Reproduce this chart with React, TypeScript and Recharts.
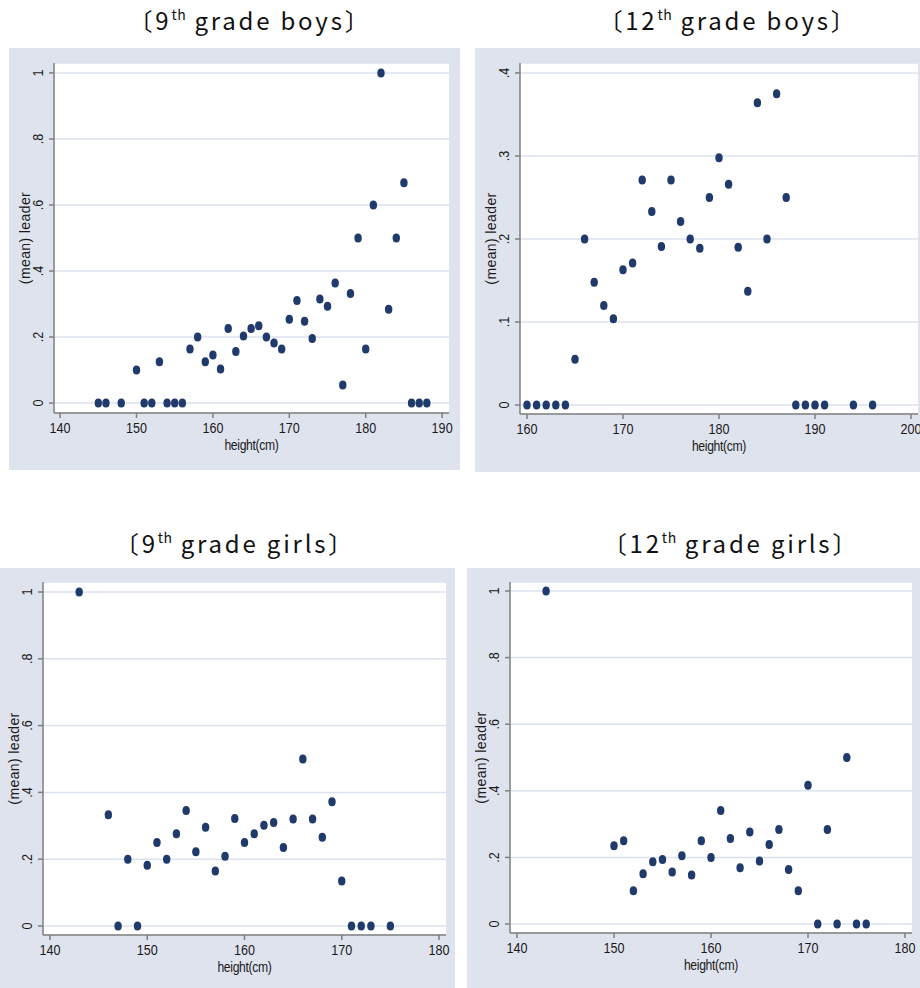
import React from 'react';
import {
  ScatterChart,
  Scatter,
  XAxis,
  YAxis,
  CartesianGrid,
} from 'recharts';

// 9th grade boys
const B9_HEIGHT = [145, 146, 148, 150, 151, 152, 153, 154, 155, 156, 157, 158, 159, 160, 161, 162, 163, 164, 165, 166, 167, 168, 169, 170, 171, 172, 173, 174, 175, 176, 177, 178, 179, 180, 181, 182, 183, 184, 185, 186, 187, 188];
const B9_LEADER = [0, 0, 0, 0.1, 0, 0, 0.125, 0, 0, 0, 0.164, 0.2, 0.125, 0.146, 0.103, 0.226, 0.156, 0.203, 0.226, 0.234, 0.2, 0.182, 0.164, 0.254, 0.311, 0.248, 0.196, 0.315, 0.293, 0.364, 0.055, 0.332, 0.5, 0.164, 0.6, 1, 0.284, 0.5, 0.667, 0, 0, 0];

// 12th grade boys
const B12_HEIGHT = [160, 161, 162, 163, 164, 165, 166, 167, 168, 169, 170, 171, 172, 173, 174, 175, 176, 177, 178, 179, 180, 181, 182, 183, 184, 185, 186, 187, 188, 189, 190, 191, 194, 196];
const B12_LEADER = [0, 0, 0, 0, 0, 0.055, 0.2, 0.148, 0.12, 0.104, 0.163, 0.171, 0.271, 0.233, 0.191, 0.271, 0.221, 0.2, 0.189, 0.25, 0.298, 0.266, 0.19, 0.137, 0.364, 0.2, 0.375, 0.25, 0, 0, 0, 0, 0, 0];

// 9th grade girls
const G9_HEIGHT = [143, 146, 147, 148, 149, 150, 151, 152, 153, 154, 155, 156, 157, 158, 159, 160, 161, 162, 163, 164, 165, 166, 167, 168, 169, 170, 171, 172, 173, 175];
const G9_LEADER = [1, 0.333, 0, 0.2, 0, 0.182, 0.25, 0.2, 0.276, 0.346, 0.222, 0.296, 0.165, 0.209, 0.322, 0.25, 0.276, 0.302, 0.31, 0.235, 0.32, 0.5, 0.32, 0.266, 0.372, 0.135, 0, 0, 0, 0];

// 12th grade girls
const G12_HEIGHT = [143, 150, 151, 152, 153, 154, 155, 156, 157, 158, 159, 160, 161, 162, 163, 164, 165, 166, 167, 168, 169, 170, 171, 172, 173, 174, 175, 176];
const G12_LEADER = [1, 0.235, 0.25, 0.1, 0.151, 0.187, 0.194, 0.156, 0.205, 0.147, 0.25, 0.2, 0.341, 0.257, 0.169, 0.276, 0.189, 0.239, 0.284, 0.164, 0.1, 0.417, 0, 0.284, 0, 0.5, 0, 0];

const X_TICKS_140 = [140, 150, 160, 170, 180, 190];
const X_TICKS_GIRLS = [140, 150, 160, 170, 180];
const X_TICKS_160 = [160, 170, 180, 190, 200];
const Y_TICKS_1 = [0, 0.2, 0.4, 0.6, 0.8, 1];
const Y_TICKS_04 = [0, 0.1, 0.2, 0.3, 0.4];

const BG = '#dfe3ee';
const GRID = '#dbe2ef';
const AXIS = '#7f7f7f';
const MARKER = '#1f3a6b';
const INK = '#1a1a1a';
// Arial-ish, squeezed sideways to look like the narrow Stata font
const SANS = "'Liberation Sans', Arial, sans-serif";
const SQUEEZE = 0.84;

const toPoints = (hs: number[], vs: number[]) => hs.map((h, i) => ({ h, v: vs[i] }));

const fmtY = (v: number) => (v === 0 ? '0' : v === 1 ? '1' : String(v).replace(/^0/, ''));

function XTick(props: any) {
  const { x, y, payload } = props;
  return (
    <text
      transform={`translate(${x}, ${y + 2}) scale(${SQUEEZE}, 1)`}
      textAnchor="middle"
      dy="0.71em"
      fontFamily={SANS}
      fontSize={15}
      fill={INK}
    >
      {payload.value}
    </text>
  );
}

function YTick(props: any) {
  const { x, y, payload } = props;
  return (
    <text
      transform={`translate(${x - 4}, ${y}) rotate(-90) scale(${SQUEEZE}, 1)`}
      textAnchor="middle"
      fontFamily={SANS}
      fontSize={15}
      fill={INK}
    >
      {fmtY(payload.value)}
    </text>
  );
}

function Dot(props: any) {
  const { cx, cy } = props;
  if (cx == null || cy == null) return null;
  return <ellipse cx={cx} cy={cy} rx={3.7} ry={4.5} fill={MARKER} />;
}

interface PanelProps {
  grade: string;
  sex: string;
  left: number;
  top: number;
  width: number;
  height: number;
  plotLeft: number;
  plotTop: number;
  plotRight: number;
  plotBottom: number;
  xDomain: [number, number];
  yDomain: [number, number];
  xTicks: number[];
  yTicks: number[];
  data: { h: number; v: number }[];
  titleX: number;
  titleY: number;
}

function Panel(p: PanelProps) {
  return (
    <>
      <div
        style={{
          position: 'absolute',
          left: p.titleX - 160,
          top: p.titleY,
          width: 320,
          textAlign: 'center',
          fontFamily: '"Noto Sans CJK KR", "Noto Sans", sans-serif',
          fontSize: 24,
          fontWeight: 400,
          letterSpacing: 2.8,
          color: '#111',
          lineHeight: '28px',
          whiteSpace: 'nowrap',
        }}
      >
        〔{p.grade}
        <span style={{ fontSize: 14, position: 'relative', top: -10, letterSpacing: 0.5 }}>th</span> grade {p.sex}〕
      </div>
      <div style={{ position: 'absolute', left: p.left, top: p.top, width: p.width, height: p.height, background: BG }}>
        <ScatterChart
          width={p.width}
          height={p.height}
          margin={{ top: p.plotTop, right: p.plotRight, bottom: 0, left: 0 }}
        >
          <CartesianGrid
            vertical={false}
            horizontal
            stroke={GRID}
            strokeWidth={1.5}
            fill="#ffffff"
            fillOpacity={1}
          />
          <XAxis
            type="number"
            dataKey="h"
            domain={p.xDomain}
            ticks={p.xTicks}
            interval={0}
            height={p.plotBottom}
            tickSize={5}
            axisLine={{ stroke: AXIS, strokeWidth: 1.5 }}
            tickLine={{ stroke: AXIS, strokeWidth: 1.5 }}
            tick={<XTick />}
            label={{
              content: (lp: any) => {
                const vb = lp.viewBox;
                const lx = vb.x + vb.width / 2;
                const ly = vb.y + 37;
                return (
                  <text
                    transform={`translate(${lx}, ${ly}) scale(${SQUEEZE}, 1)`}
                    textAnchor="middle"
                    fontFamily={SANS}
                    fontSize={14.5}
                    letterSpacing={-0.4}
                    fill={INK}
                  >
                    height(cm)
                  </text>
                );
              },
            }}
          />
          <YAxis
            type="number"
            dataKey="v"
            domain={p.yDomain}
            ticks={p.yTicks}
            interval={0}
            width={p.plotLeft}
            tickSize={5}
            axisLine={{ stroke: AXIS, strokeWidth: 1.5 }}
            tickLine={{ stroke: AXIS, strokeWidth: 1.5 }}
            tick={<YTick />}
            label={{
              content: (lp: any) => {
                const vb = lp.viewBox;
                const lx = vb.x + vb.width - 24;
                const ly = vb.y + vb.height / 2;
                return (
                  <text
                    transform={`translate(${lx}, ${ly}) rotate(-90)`}
                    textAnchor="middle"
                    fontFamily={SANS}
                    fontSize={14}
                    letterSpacing={0.4}
                    fill={INK}
                  >
                    (mean) leader
                  </text>
                );
              },
            }}
          />
          <Scatter data={p.data} shape={<Dot />} isAnimationActive={false} />
        </ScatterChart>
      </div>
    </>
  );
}

export default function App() {
  return (
    <div style={{ position: 'absolute', left: 0, top: 0, width: 920, height: 988, background: '#fff', overflow: 'hidden' }}>
      <Panel
        grade="9" sex="boys"
        titleX={250} titleY={6}
        left={9} top={48} width={451} height={422}
        plotLeft={45} plotTop={15} plotRight={11} plotBottom={57}
        xDomain={[139.2, 190.9]} yDomain={[-0.03, 1.03]}
        xTicks={X_TICKS_140} yTicks={Y_TICKS_1}
        data={toPoints(B9_HEIGHT, B9_LEADER)}
      />
      <Panel
        grade="12" sex="boys"
        titleX={728} titleY={6}
        left={475} top={48} width={445} height={424}
        plotLeft={45} plotTop={15} plotRight={2} plotBottom={58}
        xDomain={[159.27, 200.73]} yDomain={[-0.0108, 0.412]}
        xTicks={X_TICKS_160} yTicks={Y_TICKS_04}
        data={toPoints(B12_HEIGHT, B12_LEADER)}
      />
      <Panel
        grade="9" sex="girls"
        titleX={235} titleY={529}
        left={0} top={568} width={455} height={420}
        plotLeft={43} plotTop={14} plotRight={9} plotBottom={53}
        xDomain={[139.28, 180.72]} yDomain={[-0.027, 1.03]}
        xTicks={X_TICKS_GIRLS} yTicks={Y_TICKS_1}
        data={toPoints(G9_HEIGHT, G9_LEADER)}
      />
      <Panel
        grade="12" sex="girls"
        titleX={731} titleY={529}
        left={467} top={568} width={453} height={420}
        plotLeft={43} plotTop={14} plotRight={8} plotBottom={55}
        xDomain={[139.28, 180.72]} yDomain={[-0.027, 1.027]}
        xTicks={X_TICKS_GIRLS} yTicks={Y_TICKS_1}
        data={toPoints(G12_HEIGHT, G12_LEADER)}
      />
    </div>
  );
}
